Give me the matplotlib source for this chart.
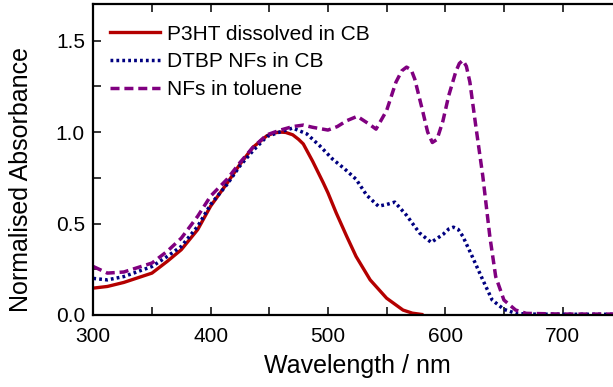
import matplotlib
matplotlib.use('Agg')
import matplotlib.pyplot as plt
from matplotlib.ticker import MultipleLocator

plt.rcParams['font.family'] = ['Liberation Sans', 'DejaVu Sans']

# P3HT dissolved in CB
wl_p3ht = [300, 312, 326, 350, 363, 375, 389, 400, 414, 425, 436, 448, 454, 459,
           464, 470, 475, 479, 487, 496, 500, 507, 516, 524, 536, 550, 564, 572, 580]
abs_p3ht = [0.147, 0.156, 0.178, 0.229, 0.293, 0.357, 0.467, 0.595, 0.72, 0.824,
            0.916, 0.98, 0.995, 1.0, 0.998, 0.985, 0.96, 0.935, 0.84, 0.723,
            0.668, 0.559, 0.43, 0.32, 0.192, 0.092, 0.027, 0.01, 0.003]

# DTBP NFs in CB
wl_dtbp = [300, 312, 326, 350, 363, 375, 389, 400, 414, 425, 436, 448, 459, 470,
           482, 493, 504, 514, 524, 533, 543, 550, 557, 567, 578, 588, 598, 603,
           607, 611, 615, 623, 632, 640, 650, 660, 670, 700, 745]
abs_dtbp = [0.2, 0.192, 0.21, 0.265, 0.32, 0.375, 0.485, 0.604, 0.714, 0.815,
            0.897, 0.976, 1.0, 1.022, 0.99, 0.925, 0.852, 0.8, 0.742, 0.655,
            0.595, 0.604, 0.617, 0.545, 0.449, 0.397, 0.44, 0.47, 0.48, 0.468,
            0.43, 0.32, 0.192, 0.082, 0.031, 0.009, 0.005, 0.004, 0.004]

# NFs in toluene
wl_tol = [300, 312, 326, 350, 363, 375, 389, 400, 414, 425, 436, 448, 459, 470,
          479, 487, 500, 508, 516, 525, 535, 541, 550, 558, 563, 567, 571, 574,
          581, 585, 589, 593, 598, 603, 609, 612, 615, 618, 621, 626, 632, 638,
          643, 650, 660, 669, 700, 745]
abs_tol = [0.265, 0.229, 0.235, 0.284, 0.348, 0.42, 0.54, 0.65, 0.742, 0.833,
           0.916, 0.985, 1.01, 1.03, 1.038, 1.026, 1.011, 1.03, 1.062, 1.086,
           1.044, 1.016, 1.117, 1.273, 1.335, 1.355, 1.34, 1.29, 1.108, 1.0,
           0.943, 0.96, 1.06, 1.2, 1.33, 1.375, 1.392, 1.36, 1.273, 1.035, 0.76,
           0.43, 0.21, 0.082, 0.027, 0.009, 0.005, 0.005]

W, H = 613, 387
fig = plt.figure(figsize=(W / 100, H / 100), dpi=100)
ax = fig.add_axes([93.3 / W, (H - 315) / H, (W - 93.3) / W, (315 - 4) / H])

ax.plot(wl_p3ht, abs_p3ht, color='#b40000', lw=2.4, label='P3HT dissolved in CB')
ax.plot(wl_dtbp, abs_dtbp, color='#000080', lw=2.5, linestyle=(0, (0.8, 0.9)),
        label='DTBP NFs in CB')
ax.plot(wl_tol, abs_tol, color='#800080', lw=2.5, linestyle=(0, (2.6, 1.4)),
        label='NFs in toluene')

ax.set_xlim(300, 743)
ax.set_ylim(0, 1.7)
ax.xaxis.set_major_locator(MultipleLocator(100))
ax.xaxis.set_minor_locator(MultipleLocator(50))
ax.yaxis.set_major_locator(MultipleLocator(0.5))
ax.yaxis.set_minor_locator(MultipleLocator(0.25))
ax.yaxis.set_major_formatter(plt.FormatStrFormatter('%.1f'))

ax.spines['right'].set_visible(False)
for s in ['left', 'bottom', 'top']:
    ax.spines[s].set_linewidth(1.6)
ax.tick_params(which='both', direction='in', top=True, right=False,
               length=5.5, width=1.1, labelsize=15)
ax.tick_params(axis='x', pad=9)
ax.tick_params(axis='y', pad=6)

ax.set_xlabel('Wavelength / nm', fontsize=18)
ax.xaxis.set_label_coords(0.508, -0.127)
ax.set_ylabel('Normalised Absorbance', fontsize=18)
ax.yaxis.set_label_coords(-0.116, 0.435)

ax.legend(loc='upper left', bbox_to_anchor=(0.033, 0.934), frameon=False,
          fontsize=15, handlelength=2.4, handletextpad=0.3, labelspacing=0.42,
          borderpad=0, borderaxespad=0)

fig.savefig('out.png', dpi=100)
